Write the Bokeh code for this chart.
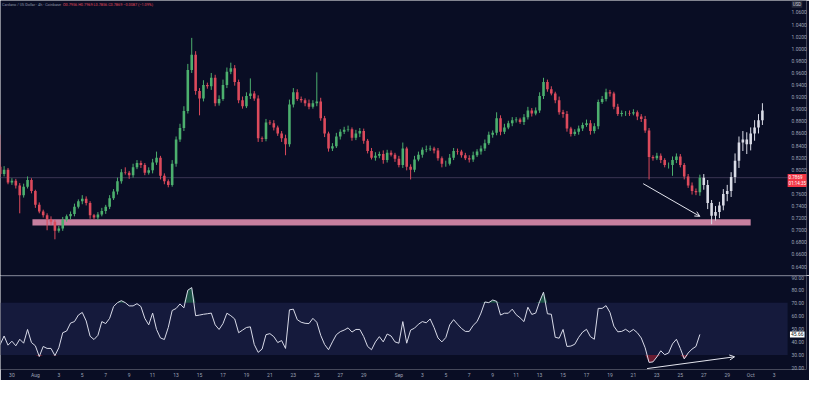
import pandas as pd
from bokeh.plotting import figure
from bokeh.layouts import column
from bokeh.models import (FixedTicker, Range1d, Span, Label, Arrow, OpenHead,
                          NumeralTickFormatter, ColumnDataSource, BoxAnnotation)
from bokeh.embed import file_html
from bokeh.resources import INLINE

# ---------------- data ----------------
TITLE = "Cardano / US Dollar · 4h · Coinbase"
OHLC_TEXT = "O0.7956 H0.7969 L0.7856 C0.7869 −0.0087 (−1.09%)"
COUNTDOWN = "01:14:35"
CURRENCY = "USD"
ref_date = "2025-08-01"
start_time = "2025-07-28 08:00"
bar_freq = "8h"

first_open = 0.858
closes = [
    0.851, 0.805, 0.793, 0.800, 0.779, 0.782, 0.774, 0.758, 0.772, 0.783,
    0.765, 0.742, 0.731, 0.725, 0.718, 0.714, 0.699, 0.703, 0.717, 0.723,
    0.727, 0.739, 0.748, 0.752, 0.745, 0.725, 0.721, 0.726, 0.732, 0.739,
    0.753, 0.764, 0.781, 0.796, 0.795, 0.791, 0.804, 0.811, 0.808, 0.795,
    0.799, 0.812, 0.820, 0.790, 0.781, 0.775, 0.810, 0.850, 0.869, 0.897,
    0.965, 0.990, 0.930, 0.918, 0.940, 0.938, 0.952, 0.910, 0.917, 0.940,
    0.962, 0.968, 0.945, 0.915, 0.905, 0.922, 0.926, 0.918, 0.852, 0.851,
    0.878, 0.877, 0.870, 0.860, 0.852, 0.842, 0.908, 0.928, 0.917, 0.915,
    0.910, 0.904, 0.910, 0.913, 0.885, 0.860, 0.835, 0.839, 0.855, 0.863,
    0.866, 0.867, 0.853, 0.860, 0.864, 0.848, 0.831, 0.820, 0.823, 0.826,
    0.816, 0.828, 0.825, 0.818, 0.808, 0.835, 0.805, 0.800, 0.817, 0.825,
    0.833, 0.834, 0.835, 0.832, 0.819, 0.810, 0.810, 0.820, 0.831, 0.830,
    0.824, 0.819, 0.817, 0.824, 0.830, 0.835, 0.844, 0.858, 0.861, 0.885,
    0.863, 0.870, 0.877, 0.882, 0.883, 0.879, 0.887, 0.898, 0.893, 0.898,
    0.922, 0.945, 0.933, 0.926, 0.915, 0.895, 0.892, 0.868, 0.859, 0.863,
    0.868, 0.874, 0.877, 0.864, 0.872, 0.912, 0.917, 0.928, 0.926, 0.904,
    0.892, 0.894, 0.894, 0.893, 0.895, 0.888, 0.884, 0.865, 0.821, 0.819,
    0.823, 0.816, 0.808, 0.808, 0.816, 0.822, 0.808, 0.789, 0.774, 0.765,
    0.763, 0.7869,
]
# wick lengths in thousandths of a dollar
upper_wick = [
    5, 4, 3, 6, 3, 4, 3, 4, 5, 6,
    3, 2, 4, 3, 3, 5, 3, 4, 5, 3,
    4, 5, 3, 6, 4, 3, 2, 4, 5, 3,
    5, 4, 6, 5, 8, 3, 6, 5, 4, 3,
    5, 6, 10, 3, 4, 3, 6, 5, 7, 8,
    10, 28, 6, 5, 8, 4, 8, 5, 6, 9,
    7, 9, 5, 4, 6, 6, 25, 4, 5, 3,
    6, 4, 5, 3, 4, 6, 8, 7, 5, 4,
    3, 6, 5, 48, 6, 4, 3, 5, 6, 4,
    5, 6, 3, 6, 5, 4, 3, 5, 6, 4,
    6, 5, 4, 3, 5, 10, 3, 4, 6, 5,
    4, 6, 5, 3, 4, 3, 5, 6, 5, 4,
    3, 4, 5, 6, 4, 5, 6, 5, 4, 10,
    5, 6, 4, 5, 4, 3, 5, 6, 4, 5,
    6, 7, 4, 5, 3, 6, 4, 5, 3, 4,
    5, 4, 6, 5, 5, 4, 5, 6, 4, 3,
    5, 4, 3, 4, 5, 3, 4, 5, 4, 3,
    5, 4, 3, 4, 6, 5, 4, 3, 4, 5,
    4, 5,
]
lower_wick = [
    4, 3, 5, 4, 3, 4, 5, 30, 4, 3,
    4, 5, 3, 4, 18, 5, 14, 3, 4, 3,
    5, 4, 3, 5, 4, 6, 3, 4, 3, 5,
    4, 3, 5, 4, 3, 6, 4, 3, 5, 4,
    3, 5, 4, 6, 5, 4, 3, 5, 4, 5,
    4, 5, 6, 28, 5, 4, 6, 5, 4, 3,
    5, 4, 6, 5, 4, 3, 5, 4, 6, 5,
    4, 3, 5, 4, 6, 18, 4, 5, 3, 4,
    5, 4, 3, 5, 4, 6, 5, 4, 3, 5,
    4, 3, 5, 4, 6, 5, 4, 3, 5, 4,
    6, 4, 3, 5, 4, 5, 6, 16, 4, 3,
    5, 4, 3, 5, 4, 6, 5, 3, 4, 5,
    4, 3, 5, 4, 3, 5, 4, 3, 5, 4,
    6, 4, 3, 5, 4, 3, 5, 4, 5, 3,
    4, 5, 4, 3, 5, 4, 6, 5, 4, 3,
    5, 4, 3, 6, 4, 5, 3, 4, 5, 4,
    3, 4, 5, 4, 3, 6, 5, 4, 37, 4,
    3, 5, 4, 6, 18, 5, 4, 5, 4, 6,
    5, 6,
]
rsi = [
    54.7, 41.0, 38.0, 44.5, 37.5, 40.5, 37.0, 42.0, 39.0, 49.5,
    39.5, 37.0, 28.8, 36.5, 35.0, 35.0, 29.5, 35.5, 47.0, 48.3,
    54.4, 55.5, 60.5, 62.5, 56.0, 44.3, 41.8, 45.0, 55.5, 54.0,
    58.0, 67.0, 70.0, 71.5, 70.0, 67.5, 67.5, 69.2, 67.0, 58.0,
    53.0, 62.0, 49.5, 43.0, 41.8, 51.0, 64.0, 65.5, 69.0, 66.0,
    79.5, 81.5, 60.0, 60.5, 61.1, 61.5, 62.0, 53.0, 49.5, 54.0,
    61.9, 60.0, 57.5, 47.0, 49.0, 51.0, 51.5, 38.0, 32.0, 34.5,
    45.5, 46.3, 44.0, 39.5, 41.0, 35.0, 64.5, 65.0, 57.0, 55.0,
    54.2, 54.0, 58.0, 55.0, 45.0, 38.0, 34.0, 40.0, 45.5, 47.8,
    49.0, 50.7, 47.5, 49.5, 49.5, 44.0, 36.5, 34.0, 40.0, 44.0,
    40.0, 46.0, 44.5, 40.0, 39.0, 55.5, 39.0, 49.0, 50.5, 53.5,
    55.5, 54.6, 57.5, 51.0, 43.0, 40.0, 43.3, 53.0, 57.0, 53.5,
    50.3, 48.0, 48.0, 52.6, 55.5, 62.0, 70.5, 70.0, 72.0, 71.0,
    60.5, 61.9, 61.9, 65.0, 60.8, 58.4, 55.5, 66.5, 61.0, 62.0,
    70.8, 78.0, 61.5, 61.1, 43.5, 42.8, 49.5, 36.5, 36.8, 38.2,
    43.5, 47.5, 49.6, 44.0, 42.0, 65.6, 65.6, 67.7, 62.5, 52.0,
    47.7, 48.0, 49.6, 47.5, 49.5, 47.0, 43.0, 35.5, 24.3, 24.7,
    28.5, 33.2, 30.2, 31.5, 38.5, 42.0, 35.0, 27.0, 31.5, 34.5,
    36.5, 45.66,
]
# projected (drawn) bars pattern after the last real bar
proj_closes = [0.775, 0.745, 0.724, 0.730, 0.741, 0.760, 0.765, 0.788,
               0.815, 0.845, 0.850, 0.842, 0.860, 0.870, 0.882, 0.898]
proj_upper = [6, 8, 5, 10, 6, 8, 10, 8, 12, 10, 14, 12, 10, 12, 10, 12]
proj_lower = [8, 10, 14, 8, 10, 8, 12, 10, 10, 12, 14, 16, 10, 12, 10, 8]

support_low, support_high = 0.708, 0.718
support_start, support_end = "2025-07-31 18:00", "2025-10-01 00:00"

price_ticks = [0.64, 0.66, 0.68, 0.70, 0.72, 0.74, 0.76, 0.78, 0.80, 0.82, 0.84,
               0.86, 0.88, 0.90, 0.92, 0.94, 0.96, 0.98, 1.00, 1.02, 1.04, 1.06]
rsi_ticks = [20, 30, 40, 50, 60, 70, 80, 90]
tick_dates = ["2025-07-30", "2025-08-01", "2025-08-03", "2025-08-05", "2025-08-07",
              "2025-08-09", "2025-08-11", "2025-08-13", "2025-08-15", "2025-08-17",
              "2025-08-19", "2025-08-21", "2025-08-23", "2025-08-25", "2025-08-27",
              "2025-08-29", "2025-09-01", "2025-09-03", "2025-09-05", "2025-09-07",
              "2025-09-09", "2025-09-11", "2025-09-13", "2025-09-15", "2025-09-17",
              "2025-09-19", "2025-09-21", "2025-09-23", "2025-09-25", "2025-09-27",
              "2025-09-29", "2025-10-01", "2025-10-03"]
tick_labels = ["30", "Aug", "3", "5", "7", "9", "11", "13", "15", "17", "19", "21",
               "23", "25", "27", "29", "Sep", "3", "5", "7", "9", "11", "13", "15",
               "17", "19", "21", "23", "25", "27", "29", "Oct", "3"]

price_arrow = ("2025-09-21 20:00", 0.777, "2025-09-26 16:00", 0.723)
rsi_arrow = ("2025-09-22 04:00", 19.6, "2025-09-29 15:00", 28.6)

# ---------------- helpers ----------------
REF = pd.Timestamp(ref_date)


def day(ts):
    return (pd.Timestamp(ts) - REF) / pd.Timedelta("1D")


BG = "#090d24"
UP = "#4caf6e"
DOWN = "#dc4a5c"
GHOST = "#d9dbe6"
PINK = "#c77f9f"
AXIS_TXT = "#9ea2b5"
SCALE_X = 64.15     # where the price-scale strip begins (days)

times = pd.date_range(start_time, periods=len(closes) + len(proj_closes), freq=bar_freq)
days = [(t - REF) / pd.Timedelta("1D") for t in times]
n = len(closes)

opens = [first_open] + closes[:-1]
highs = [max(o, c) + u / 1000 for o, c, u in zip(opens, closes, upper_wick)]
lows = [min(o, c) - l / 1000 for o, c, l in zip(opens, closes, lower_wick)]
cols = [UP if c >= o else DOWN for o, c in zip(opens, closes)]
src = ColumnDataSource(dict(x=days[:n], top=[max(o, c) for o, c in zip(opens, closes)],
                            bottom=[min(o, c) for o, c in zip(opens, closes)],
                            high=highs, low=lows, color=cols))

p_opens = [closes[-1]] + proj_closes[:-1]
psrc = ColumnDataSource(dict(
    x=days[n:],
    top=[max(o, c) for o, c in zip(p_opens, proj_closes)],
    bottom=[min(o, c) for o, c in zip(p_opens, proj_closes)],
    high=[max(o, c) + u / 1000 for o, c, u in zip(p_opens, proj_closes, proj_upper)],
    low=[min(o, c) - l / 1000 for o, c, l in zip(p_opens, proj_closes, proj_lower)],
))

xr = Range1d(-2.9737, 65.76)


def style_price_axis(ax, ticks, fmt):
    ax.ticker = FixedTicker(ticks=ticks)
    ax.formatter = NumeralTickFormatter(format=fmt)
    ax.major_label_text_font_size = "5px"
    ax.major_label_text_font = "Roboto"
    ax.major_label_text_color = AXIS_TXT
    ax.axis_line_color = None
    ax.major_tick_line_color = None
    ax.minor_tick_line_color = None
    ax.major_tick_out = 0
    ax.major_tick_in = 0
    ax.major_label_standoff = -15


# ---------------- price pane ----------------
p = figure(width=809, height=275, x_range=xr, y_range=Range1d(0.6252, 1.0798),
           output_backend="svg", toolbar_location=None, y_axis_location="right",
           x_axis_location=None, background_fill_color=BG, border_fill_color=BG,
           outline_line_color=None, min_border_left=0, min_border_right=0,
           min_border_top=0, min_border_bottom=0)
p.grid.visible = False
style_price_axis(p.yaxis[0], price_ticks, "0.0000")

p.add_layout(Span(location=closes[-1], dimension="width", line_color="#3a3553",
                  line_width=1, level="underlay"))
p.quad(left=day(support_start), right=day(support_end), bottom=support_low,
       top=support_high, fill_color=PINK, line_color=None)

p.segment(x0="x", y0="high", x1="x", y1="low", color="color", line_width=1, source=src)
p.vbar(x="x", width=0.22, top="top", bottom="bottom", fill_color="color",
       line_color=None, source=src)
p.segment(x0="x", y0="high", x1="x", y1="low", color=GHOST, line_width=1, source=psrc)
p.vbar(x="x", width=0.22, top="top", bottom="bottom", fill_color=GHOST,
       line_color=None, source=psrc)

p.add_layout(Arrow(x_start=day(price_arrow[0]), y_start=price_arrow[1],
                   x_end=day(price_arrow[2]), y_end=price_arrow[3],
                   line_color="#e4e5ee", line_width=1,
                   end=OpenHead(size=5, line_color="#e4e5ee", line_width=1)))

p.add_layout(Label(x=-2.85, y=1.0735, text=TITLE, text_font="Roboto",
                   text_font_size="3.8px", text_color="#8d91a6", text_baseline="middle"))
p.add_layout(Label(x=2.35, y=1.0735, text=OHLC_TEXT, text_font="Roboto",
                   text_font_size="3.8px", text_color="#e0475b", text_baseline="middle"))
p.add_layout(Label(x=SCALE_X + 0.35, y=1.0735, text=CURRENCY, text_font="Roboto",
                   text_font_size="4.5px", text_color="#c8cad6", text_baseline="middle",
                   background_fill_color="#262a3c", padding=1))
p.add_layout(Label(x=SCALE_X, y=closes[-1] - 0.0045, text=f"{closes[-1]:.4f}\n{COUNTDOWN}",
                   text_font="Roboto", text_font_size="4.5px", text_color="white",
                   text_baseline="middle", background_fill_color="#f23645", padding=1))

# ---------------- RSI pane ----------------
r = figure(width=809, height=105, x_range=xr, y_range=Range1d(18.889, 90.741),
           output_backend="svg", toolbar_location=None, y_axis_location="right",
           background_fill_color=BG, border_fill_color=BG, outline_line_color=None,
           min_border_left=0, min_border_right=0, min_border_top=0, min_border_bottom=8)
r.grid.visible = False
r.add_layout(BoxAnnotation(left=xr.start, right=SCALE_X, bottom=30, top=70,
                           fill_color="#151a3c", fill_alpha=1, line_color=None,
                           level="underlay"))
r.add_layout(Span(location=90.45, dimension="width", line_color="#444a68", line_width=1))

rsi_days = days[:n]
r.varea(x=rsi_days, y1=[70] * n, y2=[max(v, 70) for v in rsi], fill_color="#2f9e6a",
        fill_alpha=0.45)
r.varea(x=rsi_days, y1=[min(v, 30) for v in rsi], y2=[30] * n, fill_color="#b8283a",
        fill_alpha=0.55)
r.line(rsi_days, rsi, line_color="#d8dae8", line_width=1)

r.add_layout(Arrow(x_start=day(rsi_arrow[0]), y_start=rsi_arrow[1],
                   x_end=day(rsi_arrow[2]), y_end=rsi_arrow[3],
                   line_color="#e4e5ee", line_width=1,
                   end=OpenHead(size=5, line_color="#e4e5ee", line_width=1)))

style_price_axis(r.yaxis[0], rsi_ticks, "0.00")

tick_days = [int(round(day(d))) for d in tick_dates]
xa = r.xaxis[0]
xa.ticker = FixedTicker(ticks=tick_days)
xa.major_label_overrides = {d: lbl for d, lbl in zip(tick_days, tick_labels)}
xa.major_label_text_font_size = "5px"
xa.major_label_text_font = "Roboto"
xa.major_label_text_color = AXIS_TXT
xa.axis_line_color = None
xa.major_tick_line_color = None
xa.minor_tick_line_color = None
xa.major_tick_out = 0
xa.major_tick_in = 0
xa.major_label_standoff = 2

r.add_layout(Label(x=SCALE_X + 0.2, y=rsi[-1], text=f"{rsi[-1]:.2f}", text_font="Roboto",
                   text_font_size="5px", text_color="#131722", text_baseline="middle",
                   background_fill_color="white", padding=1))

layout = column(p, r)
open("out.html", "w").write(file_html(layout, INLINE))
